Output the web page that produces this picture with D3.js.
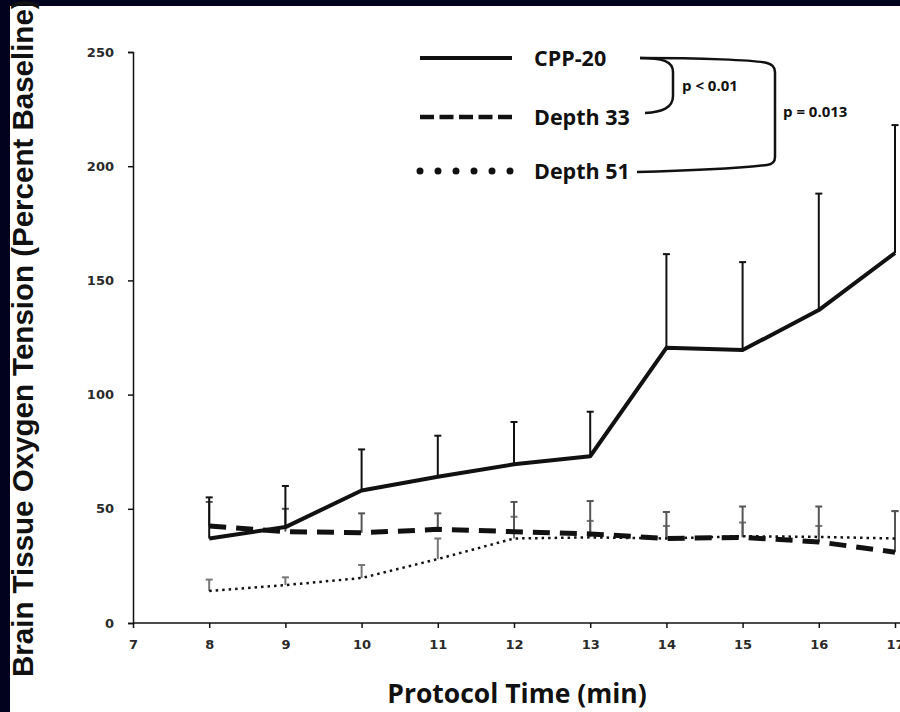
<!DOCTYPE html>
<meta charset="utf-8">
<style>
body { margin: 0; background: #02021e; }
.tick text { font-family: "DejaVu Sans", sans-serif; font-weight: bold; font-size: 13px; fill: #2a2a2a; }
.legend text { font-family: "Open Sans", sans-serif; font-weight: bold; fill: #111; }
</style>
<body>
<script src="https://cdn.jsdelivr.net/npm/d3@7"></script>
<script>

// data (percent of baseline)
var times = [8, 9, 10, 11, 12, 13, 14, 15, 16, 17];
var cpp20 = [37, 42, 58, 64, 69.5, 73, 120.5, 119.5, 137, 162];
var cpp20Upper = [55, 60, 76, 82, 88, 92.5, 161.5, 158, 188, 218];
var depth33 = [42.5, 40, 39.5, 41, 40, 39, 37, 37.5, 35.5, 31];
var depth33Upper = [53, 50, 48, 48, 53, 53.4, 48.6, 51, 51, 49];
var depth51 = [14, 16.6, 19.7, 28, 37, 37.5, 37, 38, 37.7, 37];
var depth51Upper = [19, 20, 25.4, 37, 46.5, 44.7, 42.5, 44, 42.5, 49];
var xTicks = [7, 8, 9, 10, 11, 12, 13, 14, 15, 16, 17];
var yTicks = [0, 50, 100, 150, 200, 250];
var seriesNames = ["CPP-20", "Depth 33", "Depth 51"];

var W = 900, H = 712;

var svg = d3.select("body").append("svg")
    .attr("width", W)
    .attr("height", H)
    .style("display", "block");

// white panel over the navy frame
svg.append("rect")
    .attr("x", 10).attr("y", 6)
    .attr("width", W - 10).attr("height", H - 6)
    .attr("fill", "#fff");

var x = d3.scaleLinear().domain([7, 17]).range([133, 895]);
var y = d3.scaleLinear().domain([0, 250]).range([623, 52]);

// axes
var gy = svg.append("g")
    .attr("transform", "translate(" + x(7) + ",0)")
    .call(d3.axisLeft(y).tickValues(yTicks).tickSize(5).tickPadding(14));
gy.select(".domain").attr("stroke", "#111").attr("stroke-width", 1.5);
gy.selectAll(".tick line").attr("stroke", "#111").attr("stroke-width", 1.5);

var gx = svg.append("g")
    .attr("transform", "translate(0," + y(0) + ")")
    .call(d3.axisBottom(x).tickValues(xTicks).tickSize(5).tickPadding(12).tickFormat(d3.format("d")));
gx.select(".domain").remove();
gx.append("line")
    .attr("x1", x(7)).attr("x2", W)
    .attr("stroke", "#111").attr("stroke-width", 1.5);
gx.selectAll(".tick line").attr("stroke", "#111").attr("stroke-width", 1.5);

// axis titles
svg.append("text")
    .attr("transform", "translate(33,677) rotate(-90)")
    .attr("font-family", "Liberation Sans, Arial, sans-serif")
    .attr("font-weight", "bold")
    .attr("font-size", 29.5)
    .attr("fill", "#111")
    .text("Brain Tissue Oxygen Tension (Percent Baseline)");

svg.append("text")
    .attr("x", 517).attr("y", 703)
    .attr("text-anchor", "middle")
    .attr("font-family", "Open Sans, sans-serif")
    .attr("font-weight", "bold")
    .attr("font-size", 26.5)
    .attr("fill", "#111")
    .text("Protocol Time (min)");

// error bars (upper only)
function errorBars(means, uppers, color) {
  var g = svg.append("g").attr("stroke", color).attr("stroke-width", 2);
  times.forEach(function(t, i) {
    g.append("line")
        .attr("x1", x(t)).attr("x2", x(t))
        .attr("y1", y(means[i])).attr("y2", y(uppers[i]));
    g.append("line")
        .attr("x1", x(t) - 3.5).attr("x2", x(t) + 3.5)
        .attr("y1", y(uppers[i])).attr("y2", y(uppers[i]));
  });
}
errorBars(depth51, depth51Upper, "#777");
errorBars(depth33, depth33Upper, "#555");
errorBars(cpp20, cpp20Upper, "#111");

var line = d3.line()
    .x(function(d) { return x(d[0]); })
    .y(function(d) { return y(d[1]); });

function zipT(vals) { return times.map(function(t, i) { return [t, vals[i]]; }); }

svg.append("path")
    .attr("d", line(zipT(depth51)))
    .attr("fill", "none").attr("stroke", "#111")
    .attr("stroke-width", 2.5)
    .attr("stroke-dasharray", "2.5,4");

svg.append("path")
    .attr("d", line(zipT(depth33)))
    .attr("fill", "none").attr("stroke", "#111")
    .attr("stroke-width", 5)
    .attr("stroke-dasharray", "17,10");

svg.append("path")
    .attr("d", line(zipT(cpp20)))
    .attr("fill", "none").attr("stroke", "#111")
    .attr("stroke-width", 4)
    .attr("stroke-linejoin", "round");

// legend
var legend = svg.append("g").attr("class", "legend");
var rowY = [58, 117, 171];
var styles = [
  {w: 4, dash: null, cap: "butt"},
  {w: 4.5, dash: "14,5.5", cap: "butt"},
  {w: 7, dash: "0,18", cap: "round"}
];
seriesNames.forEach(function(name, i) {
  legend.append("line")
      .attr("x1", 420).attr("x2", 512)
      .attr("y1", rowY[i]).attr("y2", rowY[i])
      .attr("stroke", "#111")
      .attr("stroke-width", styles[i].w)
      .attr("stroke-linecap", styles[i].cap)
      .attr("stroke-dasharray", styles[i].dash);
  legend.append("text")
      .attr("x", 534).attr("y", rowY[i] + 8)
      .attr("font-size", 21.5)
      .text(name);
});

// significance brackets
legend.append("path")
    .attr("d", "M640,58 C662,58 673,61 673,72 L673,96 C673,108 662,112 645,113")
    .attr("fill", "none").attr("stroke", "#111").attr("stroke-width", 2.5);
legend.append("path")
    .attr("d", "M640,58 C700,58 755,60 767,63 Q775,65 775,72 L775,157 Q775,164 767,165 C740,168 680,171 637,172")
    .attr("fill", "none").attr("stroke", "#111").attr("stroke-width", 2.5);

legend.append("text")
    .attr("x", 682).attr("y", 91)
    .attr("font-size", 15)
    .text("p < 0.01");
legend.append("text")
    .attr("x", 783).attr("y", 117)
    .attr("font-size", 15)
    .text("p = 0.013");

</script>
</body>
